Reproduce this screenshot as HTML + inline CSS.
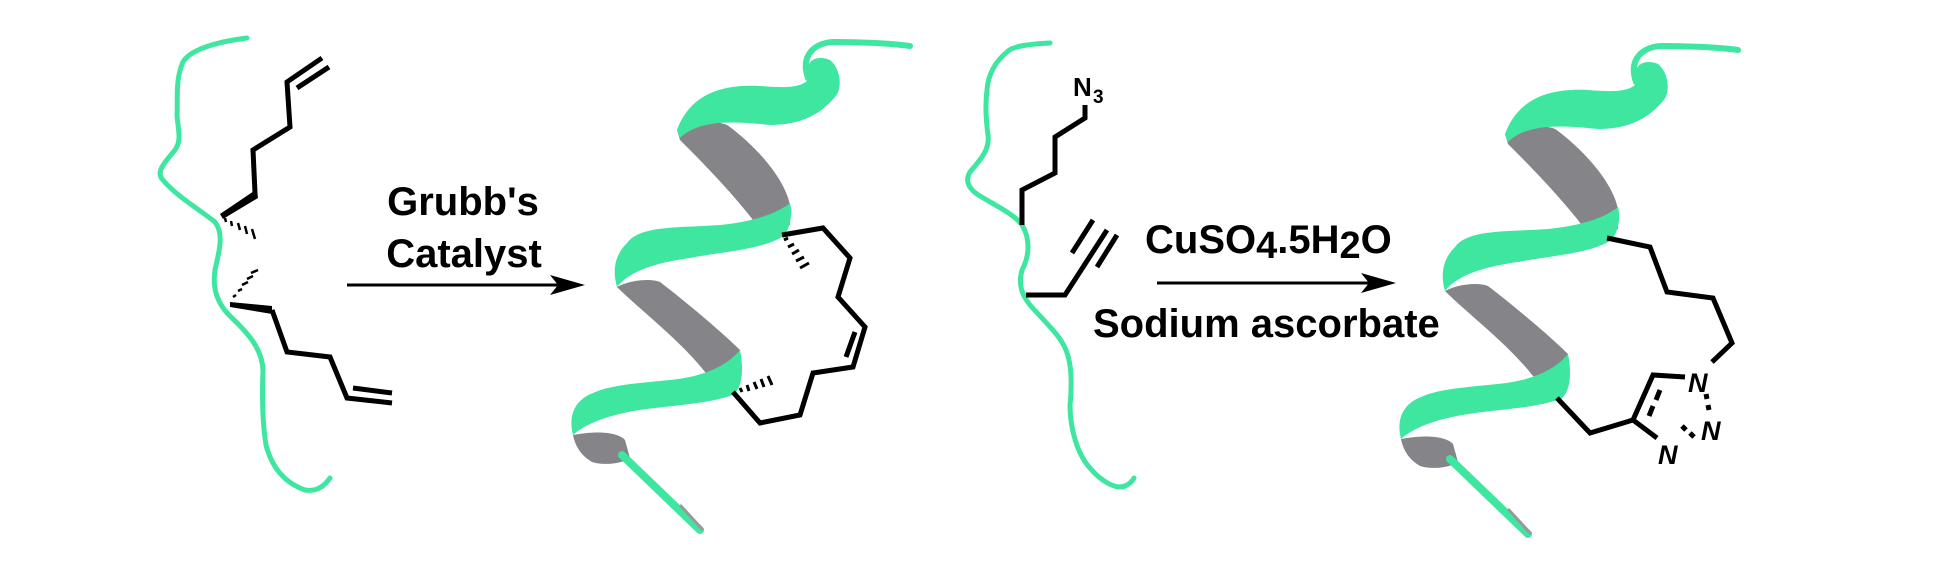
<!DOCTYPE html>
<html><head><meta charset="utf-8"><style>
html,body{margin:0;padding:0;background:#fff;}
svg{display:block;}
text{font-family:"Liberation Sans",Arial,sans-serif;font-weight:bold;fill:#000;}
</style></head><body>
<svg width="1934" height="580" viewBox="0 0 1934 580" xmlns="http://www.w3.org/2000/svg">
<defs>
<g id="helix">
  <path d="M808,78 C800,55 815,42 835,42 S 890,43 910,46" fill="none" stroke="#3ee6a0" stroke-width="6" stroke-linecap="round"/>
  <path d="M677,130 C690,125 720,118 730,127 C760,150 785,180 790,205 L790,225 C775,228 765,228 757,225 C730,190 700,160 680,140 Z" fill="#858589"/>
  <path d="M617,287 C630,280 650,278 660,282 C690,305 725,335 740,350 L738,375 C725,378 715,378 705,372 C680,340 640,310 617,287 Z" fill="#858589"/>
  <path d="M573,435 C590,432 615,430 625,440 L630,458 C620,465 600,465 592,462 C580,455 575,445 573,435 Z" fill="#858589"/>
  <path d="M677,130 C690,95 720,84 760,86 C785,88 800,88 808,80 C803,62 815,54 830,60 C842,70 842,90 835,97 C820,115 800,125 770,125 C740,122 700,118 680,138 Z" fill="#3ee6a0"/>
  <path d="M627,243 C640,225 680,228 720,225 C750,222 775,215 790,203 C793,215 790,230 782,237 C760,250 720,252 690,258 C660,262 630,270 617,287 C612,270 615,255 627,243 Z" fill="#3ee6a0"/>
  <path d="M740,350 C745,375 740,390 733,395 C710,403 680,405 655,408 C620,412 590,420 573,435 C568,415 575,400 593,393 C610,385 640,383 670,380 C700,377 725,368 740,350 Z" fill="#3ee6a0"/>
  <path d="M622,455 L700,530" stroke="#3ee6a0" stroke-width="8" stroke-linecap="round"/>
  <path d="M680,505 L703,530" stroke="#999" stroke-width="3"/>
</g>
</defs>

<path d="M247,38 C215,42 190,50 183,62 C175,80 178,100 177,115 C178,130 182,140 175,150 C165,162 155,172 163,180 C175,195 200,210 215,222 C225,235 218,255 215,270 C212,290 218,305 232,318 C250,335 262,350 263,370 C262,395 262,420 266,445 C272,468 285,483 305,490 C318,492 325,485 330,478" fill="none" stroke="#3ee6a0" stroke-width="5" stroke-linecap="round"/>
<g fill="none" stroke="#000" stroke-width="5" stroke-linejoin="miter">
  <polyline points="255,193 253,150 290,127 287,82 322,58"/>
  <line x1="297" y1="88" x2="329" y2="67"/>
  <polyline points="272,310 287,352 330,357 347,398 392,403"/>
  <line x1="353" y1="388" x2="392" y2="393"/>
</g>
<polygon points="220,214 257,189 258,198 223,219" fill="#000"/>
<polygon points="230,302 272,306 272,314 230,307" fill="#000"/>
<g stroke="#000" stroke-width="2.5">
  <line x1="225" y1="218" x2="226" y2="222"/><line x1="231" y1="221" x2="232" y2="226"/><line x1="238" y1="223" x2="240" y2="230"/><line x1="245" y1="226" x2="247" y2="234"/><line x1="252" y1="229" x2="255" y2="239"/>
  <line x1="233" y1="297" x2="236" y2="295"/><line x1="238" y1="291" x2="242" y2="289"/><line x1="242" y1="285" x2="248" y2="282"/><line x1="247" y1="279" x2="253" y2="276"/><line x1="251" y1="273" x2="258" y2="270"/>
</g>
<text x="463" y="215" font-size="40" text-anchor="middle">Grubb's</text>
<text x="464" y="267" font-size="40" text-anchor="middle">Catalyst</text>
<line x1="347" y1="285" x2="560" y2="285" stroke="#000" stroke-width="3"/>
<polygon points="585,285 550,275 558,285 550,295" fill="#000"/>

<use href="#helix"/>
<g fill="none" stroke="#000" stroke-width="5">
  <polyline points="782,235 823,228 850,258 838,297 865,327 853,367 813,373 800,415 760,423 733,392"/>
  <line x1="855" y1="332" x2="846" y2="357"/>
</g>
<g stroke="#000" stroke-width="3">
  <line x1="784" y1="240" x2="788" y2="238"/><line x1="788" y1="247" x2="794" y2="244"/><line x1="792" y1="254" x2="799" y2="250"/><line x1="796" y1="261" x2="804" y2="257"/><line x1="800" y1="268" x2="809" y2="263"/>
  <line x1="740" y1="388" x2="742" y2="392"/><line x1="747" y1="385" x2="749" y2="391"/><line x1="754" y1="382" x2="757" y2="389"/><line x1="761" y1="379" x2="764" y2="387"/><line x1="768" y1="376" x2="772" y2="385"/>
</g>

<path d="M1050,43 C1030,44 1012,46 1007,52 C995,62 988,75 987,90 C985,105 986,120 988,135 C990,150 980,160 970,172 C964,182 970,190 980,196 C1000,208 1015,215 1022,225 C1030,238 1030,255 1022,270 C1018,285 1022,295 1030,305 C1045,322 1060,335 1066,350 C1072,365 1072,385 1070,405 C1070,430 1078,455 1090,468 C1100,480 1115,490 1125,486 C1130,484 1133,480 1134,478" fill="none" stroke="#3ee6a0" stroke-width="5" stroke-linecap="round"/>
<g fill="none" stroke="#000" stroke-width="5">
  <polyline points="1022,225 1022,190 1055,173 1055,137 1085,118 1085,105"/>
  <polyline points="1026,295 1065,295 1107,230"/>
  <line x1="1072" y1="253" x2="1093" y2="220"/>
  <line x1="1097" y1="267" x2="1117" y2="235"/>
</g>
<text x="1073" y="96" font-size="26">N</text>
<text x="1093" y="103" font-size="19">3</text>
<text x="1145" y="253" font-size="40">CuSO<tspan font-size="38" dy="5">4</tspan><tspan dy="-5">.5H</tspan><tspan font-size="38" dy="5">2</tspan><tspan dy="-5">O</tspan></text>
<line x1="1157" y1="283" x2="1372" y2="283" stroke="#000" stroke-width="3"/>
<polygon points="1396,283 1361,273 1369,283 1361,293" fill="#000"/>
<text x="1093" y="337" font-size="40">Sodium ascorbate</text>

<use href="#helix" transform="translate(828,4)"/>
<g fill="none" stroke="#000" stroke-width="5">
  <polyline points="1607,238 1650,247 1667,292 1713,298 1732,343 1712,362"/>
  <polyline points="1685,377 1653,375 1633,420 1657,438"/>
  <polyline points="1633,420 1590,433 1557,398"/>
  <line x1="1660" y1="390" x2="1656" y2="400"/>
  <line x1="1653" y1="406" x2="1649" y2="416"/>
</g>
<g stroke="#000" stroke-width="5">
  <line x1="1706" y1="394" x2="1707" y2="399"/><line x1="1708" y1="405" x2="1709" y2="410"/>
  <line x1="1682" y1="426" x2="1686" y2="430"/><line x1="1690" y1="433" x2="1694" y2="437"/>
</g>
<text x="1688" y="392" font-size="27" font-style="italic">N</text>
<text x="1701" y="440" font-size="27" font-style="italic">N</text>
<text x="1658" y="464" font-size="27" font-style="italic">N</text>
</svg>
</body></html>
